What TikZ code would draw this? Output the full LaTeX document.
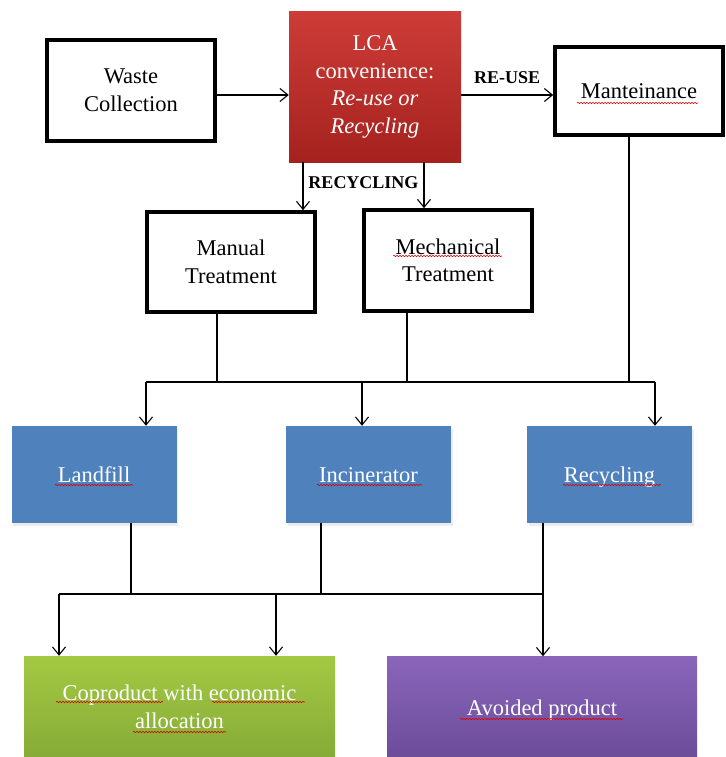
\documentclass[tikz,border=0pt]{standalone}
\usepackage{fontspec}
\setmainfont{Liberation Serif}
\usetikzlibrary{arrows.meta,decorations.pathmorphing,shadows}
\definecolor{lcatop}{HTML}{CD3C37}
\definecolor{lcabot}{HTML}{A5221F}
\definecolor{blueF}{HTML}{4F81BD}
\definecolor{greentop}{HTML}{A3C943}
\definecolor{greenbot}{HTML}{86AB37}
\definecolor{purtop}{HTML}{8A65BA}
\definecolor{purbot}{HTML}{6C4D9A}
\begin{document}
\begin{tikzpicture}[x=1pt,y=-1pt,
  txt/.style={font=\fontsize{22.5}{27.6}\selectfont,align=center,inner sep=0pt},
  oneline/.style={text height=20pt,text depth=5pt},
  thickbox/.style={txt,draw=black,line width=3.6pt,fill=white},
  lcabox/.style={txt,text=white,top color=lcatop,bottom color=lcabot,minimum width=172pt,minimum height=150pt},
  bluebox/.style={txt,oneline,text=white,fill=blueF,minimum width=165pt,minimum height=97pt,
    drop shadow={opacity=0.15,shadow xshift=1.5pt,shadow yshift=-2.5pt}},
  greenbox/.style={txt,text=white,top color=greentop,bottom color=greenbot,minimum width=311pt,minimum height=102pt},
  purbox/.style={txt,oneline,text=white,top color=purtop,bottom color=purbot,minimum width=310pt,minimum height=102pt},
  conn/.style={line width=1.2pt,black},
  arr/.style={conn,-{Straight Barb[length=8pt,width=13pt,line width=1.1pt]}},
  lbl/.style={font=\bfseries\fontsize{18}{20}\selectfont,inner sep=0pt},
  squig/.style={draw=red!85!black,line width=0.6pt,decorate,decoration={snake,amplitude=0.7pt,segment length=3pt}}
]
\fill[white] (0,0) rectangle (725,757);
\clip (0,0) rectangle (725,757);

% top row
\node[thickbox,minimum width=168pt,minimum height=101pt] (waste) at (131,90.5) {Waste\\Collection};
\node[lcabox] (lca) at (375,87) {LCA\\convenience:\\\textit{Re-use or}\\\textit{Recycling}};
\node[thickbox,oneline,minimum width=168pt,minimum height=88pt] (mant) at (639,91) {Manteinance};

% second row
\node[thickbox,minimum width=168pt,minimum height=100pt] (manual) at (231,262) {Manual\\Treatment};
\node[thickbox,minimum width=168pt,minimum height=101pt] (mech) at (448,260.5) {Mechanical\\Treatment};

% third row
\node[bluebox] (land) at (94,474.5) {Landfill};
\node[bluebox] (inc) at (368.5,474.5) {Incinerator};
\node[bluebox] (rec) at (609.5,474.5) {Recycling};

% bottom row
\node[greenbox] (cop) at (179.5,707) {Coproduct with economic\\allocation};
\node[purbox] (avoid) at (542,707.5) {Avoided product};

% helper coordinates
\coordinate (ra) at (0,95);
\coordinate (d1) at (303,0);
\coordinate (d2) at (424,0);
\coordinate (m1) at (217,0);
\coordinate (m2) at (407,0);
\coordinate (m3) at (629,0);
\coordinate (h1) at (0,382);
\coordinate (a1) at (146,382);
\coordinate (a2) at (362,382);
\coordinate (a3) at (655,382);
\coordinate (n1) at (131,0);
\coordinate (n2) at (321,0);
\coordinate (h2) at (0,594);
\coordinate (b1) at (59,594);
\coordinate (b2) at (276,594);
\coordinate (b3) at (543,594);

% connectors, top
\draw[arr] (waste.east |- ra) -- (lca.west |- ra);
\draw[arr] (lca.east |- ra) -- node[lbl,above=11pt] (reuse) {RE-USE} (mant.west |- ra);
\draw[arr] (lca.south -| d1) -- (manual.north -| d1);
\draw[arr] (lca.south -| d2) -- (mech.north -| d2);
\node[lbl] (recl) at (363.5,183) {RECYCLING};

% first collector
\draw[conn] (manual.south -| m1) -- (m1 |- h1);
\draw[conn] (mech.south -| m2) -- (m2 |- h1);
\draw[conn] (mant.south -| m3) -- (m3 |- h1);
\draw[conn] (a1) -- (a3);
\draw[arr] (a1) -- (land.north -| a1);
\draw[arr] (a2) -- (inc.north -| a2);
\draw[arr] (a3) -- (rec.north -| a3);

% second collector
\draw[conn] (land.south -| n1) -- (n1 |- h2);
\draw[conn] (inc.south -| n2) -- (n2 |- h2);
\draw[conn] (rec.south -| b3) -- (b3);
\draw[conn] (b1) -- (b3);
\draw[arr] (b1) -- (cop.north -| b1);
\draw[arr] (b2) -- (cop.north -| b2);
\draw[arr] (b3) -- (avoid.north -| b3);

% spelling underlines
\draw[squig] (577,103) -- (698,103);
\draw[squig] (393,256) -- (502,256);
\draw[squig] (55,485) -- (133,485);
\draw[squig] (317,485) -- (422,485);
\draw[squig] (563,485) -- (661,485);
\draw[squig] (56,702) -- (163,702);
\draw[squig] (212,702) -- (305,702);
\draw[squig] (133,732) -- (226,732);
\draw[squig] (460,719) -- (623,719);
\end{tikzpicture}
\end{document}
